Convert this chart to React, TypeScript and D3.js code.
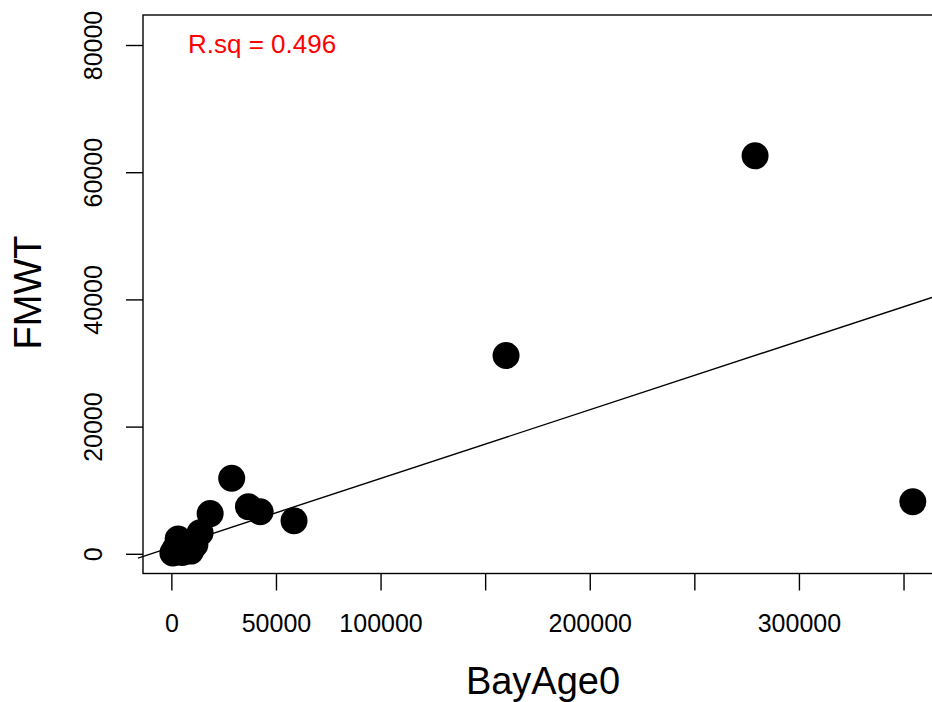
import React from 'react';
import * as d3 from 'd3';

// BayAge0 vs FMWT scatter with fitted line
const bayAge0 = [500, 1500, 2500, 3000, 3200, 5000, 7000, 9000, 11000, 13500, 18300, 28600, 36600, 42200, 58400, 159750, 278800, 354200];
const fmwt = [200, 800, 400, 2400, 1900, 300, 600, 500, 1500, 3400, 6400, 11950, 7480, 6700, 5280, 31260, 62660, 8270];

const xTicks = [0, 50000, 100000, 150000, 200000, 250000, 300000, 350000];
const xTickLabels = ['0', '50000', '100000', '', '200000', '', '300000', ''];
const yTicks = [0, 20000, 40000, 60000, 80000];
const yTickLabels = ['0', '20000', '40000', '60000', '80000'];

const fitSlope = 0.108;
const fitIntercept = 1150;
const rsqLabel = 'R.sq = 0.496';

const W = 932;
const H = 702;
const font = '"Liberation Sans", Arial, sans-serif';

const App = () => {
  let x = d3.scaleLinear()
    .domain([-13800, 371500])
    .range([143, 949]);
  let y = d3.scaleLinear()
    .domain([-3019, 84796])
    .range([573.5, 15]);

  let [x0, x1] = x.domain();
  let [y0, y1] = y.domain();

  // abline runs a little past the box on the left
  let lineX = [x.invert(138), x.invert(W)];
  let fitLine = d3.line<number>()
    .x((d) => x(d))
    .y((d) => y(fitIntercept + fitSlope * d));

  let points = bayAge0.map((v, i) => ({ bx: v, fy: fmwt[i] }));

  return (
    <svg width={W} height={H} style={{ position: 'absolute', left: 0, top: 0, background: '#fff' }}
      fontFamily={font}>
      <rect x={0} y={0} width={W} height={H} fill="#fff" />
      {/* plot box */}
      <rect x={x(x0)} y={y(y1)} width={x(x1) - x(x0)} height={y(y0) - y(y1)}
        fill="none" stroke="#000" strokeWidth={1.4} />

      {/* x axis */}
      {xTicks.map((t, i) => (
        <g key={'xt' + i} transform={'translate(' + x(t) + ',0)'}>
          <line y1={y(y0)} y2={y(y0) + 17} stroke="#000" strokeWidth={1.4} />
          <text y={631.5} textAnchor="middle" fontSize={25} fill="#000">{xTickLabels[i]}</text>
        </g>
      ))}

      {/* y axis */}
      {yTicks.map((t, i) => (
        <g key={'yt' + i} transform={'translate(0,' + y(t) + ')'}>
          <line x1={x(x0) - 17} x2={x(x0)} stroke="#000" strokeWidth={1.4} />
          <text transform="translate(101.5,0) rotate(-90)" textAnchor="middle" fontSize={25} fill="#000">
            {yTickLabels[i]}
          </text>
        </g>
      ))}

      {/* axis titles */}
      <text x={543} y={694} textAnchor="middle" fontSize={38} fill="#000">BayAge0</text>
      <text transform="translate(40.5,292.5) rotate(-90)" textAnchor="middle" fontSize={38} fill="#000">FMWT</text>

      {/* points */}
      {points.map((d, i) => (
        <circle key={'p' + i} cx={x(d.bx)} cy={y(d.fy)} r={13.5} fill="#000" />
      ))}

      {/* fit */}
      <path d={fitLine(lineX) || ''} fill="none" stroke="#000" strokeWidth={1.4} />

      <text x={188} y={52.5} fontSize={26} fill="#ff0000">{rsqLabel}</text>
    </svg>
  );
};

export default App;
